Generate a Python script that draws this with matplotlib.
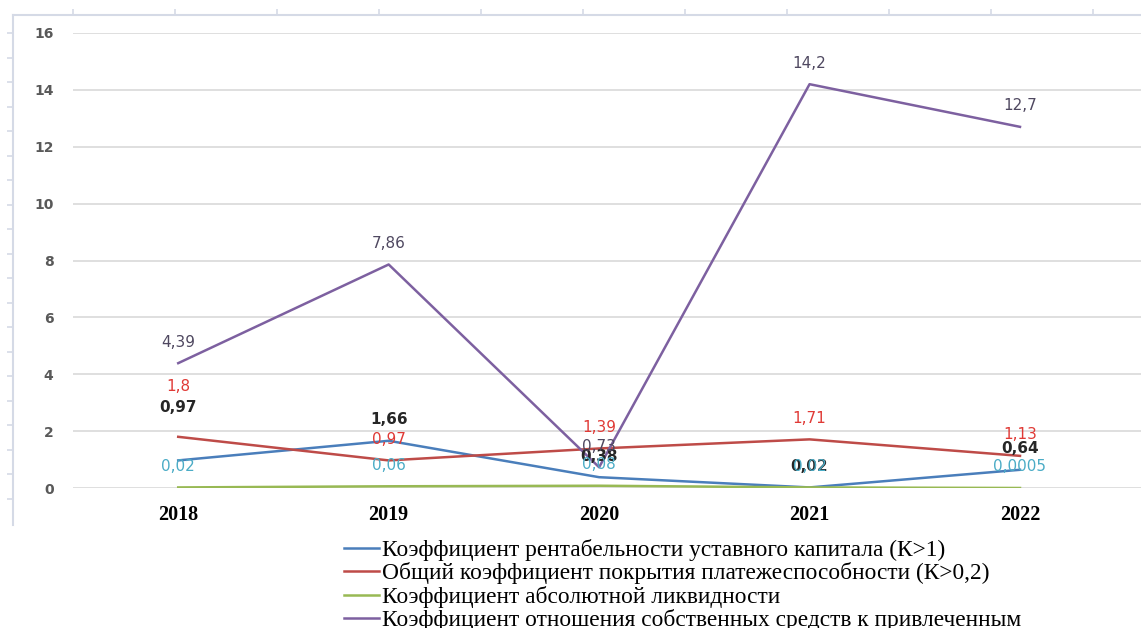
import matplotlib
matplotlib.use("Agg")
import matplotlib.pyplot as plt
import numpy as np

years = ["2018", "2019", "2020", "2021", "2022"]

rent_capital = [0.97, 1.66, 0.38, 0.02, 0.64]
solvency_cover = [1.8, 0.97, 1.39, 1.71, 1.13]
abs_liquidity = [0.02, 0.06, 0.08, 0.02, 0.0005]
own_to_borrowed = [4.39, 7.86, 0.73, 14.2, 12.7]

rent_labels = ["0,97", "1,66", "0,38", "0,02", "0,64"]
solvency_labels = ["1,8", "0,97", "1,39", "1,71", "1,13"]
liquidity_labels = ["0,02", "0,06", "0,08", "0,02", "0,0005"]
own_labels = ["4,39", "7,86", "0,73", "14,2", "12,7"]

legend_names = [
    "Коэффициент рентабельности уставного капитала (К>1)",
    "Общий коэффициент покрытия платежеспособности (К>0,2)",
    "Коэффициент абсолютной ликвидности",
    "Коэффициент отношения собственных средств к привлеченным",
]

W, H = 1141, 628
fig = plt.figure(figsize=(W / 100, H / 100), dpi=100)
fig.patch.set_facecolor("white")

# faint outer chart-area frame with its little ticks
frame = fig.add_axes([13 / W, 1 - 525 / H, 1.2, (525 - 15) / H])
frame.set_xlim(0, 1.2 * W)
frame.set_ylim(525, 15)
frame.patch.set_alpha(0)
for side in ("right", "bottom"):
    frame.spines[side].set_visible(False)
for side in ("left", "top"):
    frame.spines[side].set_color("#d5dae6")
    frame.spines[side].set_linewidth(1.5)
frame.xaxis.tick_top()
frame.set_xticks(np.arange(60, W, 102))
frame.set_yticks(np.arange(33, 510, 24.5))
frame.tick_params(colors="#d5dae6", length=4, width=1.2, labelleft=False,
                  labeltop=False, direction="out")

ax = fig.add_axes([73 / W, 1 - 488 / H, 1 - 73 / W, (488 - 33) / H])
ax.patch.set_alpha(0)
x = np.arange(len(years))

series = [
    (rent_capital, rent_labels, "#4a7ebb", "#262626", "bold"),
    (solvency_cover, solvency_labels, "#be4b48", "#e03a36", "normal"),
    (abs_liquidity, liquidity_labels, "#98b954", "#4bacc6", "normal"),
    (own_to_borrowed, own_labels, "#7d60a0", "#4f4860", "normal"),
]
extra_dy = {(0, 0): 32, (1, 0): 29}

for i, (vals, labs, col, tcol, weight) in enumerate(series):
    ax.plot(x, vals, color=col, lw=1.8, label=legend_names[i], zorder=3)
    for j, (v, lab) in enumerate(zip(vals, labs)):
        ax.annotate(lab, (x[j], v), xytext=(0, 21 + extra_dy.get((i, j), 0)),
                    textcoords="offset pixels", ha="center", va="center",
                    fontsize=11, color=tcol, fontweight=weight, zorder=5)

ax.set_xlim(-0.5, 4.575)
ax.set_ylim(0, 16)
ax.set_yticks(np.arange(0, 17, 2))
ax.grid(axis="y", color="#d9d9d9", lw=1.2)
ax.set_axisbelow(True)
for s in ax.spines.values():
    s.set_visible(False)
ax.tick_params(axis="both", length=0)
ax.tick_params(axis="y", pad=14)
ax.tick_params(axis="x", pad=12)
for t in ax.get_yticklabels():
    t.set_fontsize(10)
    t.set_fontweight("bold")
    t.set_color("#595959")
ax.set_xticks(x)
ax.set_xticklabels(years, family="Liberation Serif", fontweight="bold",
                   fontsize=14.5, color="black")

fig.legend(loc="upper left", bbox_to_anchor=(344 / W, 1 - 539 / H),
           frameon=False, prop={"family": "Liberation Serif", "size": 16.8},
           handlelength=1.5, handletextpad=0.13, labelspacing=0.06,
           borderaxespad=0, borderpad=0)

fig.savefig("out.png", dpi=100, facecolor="white")
